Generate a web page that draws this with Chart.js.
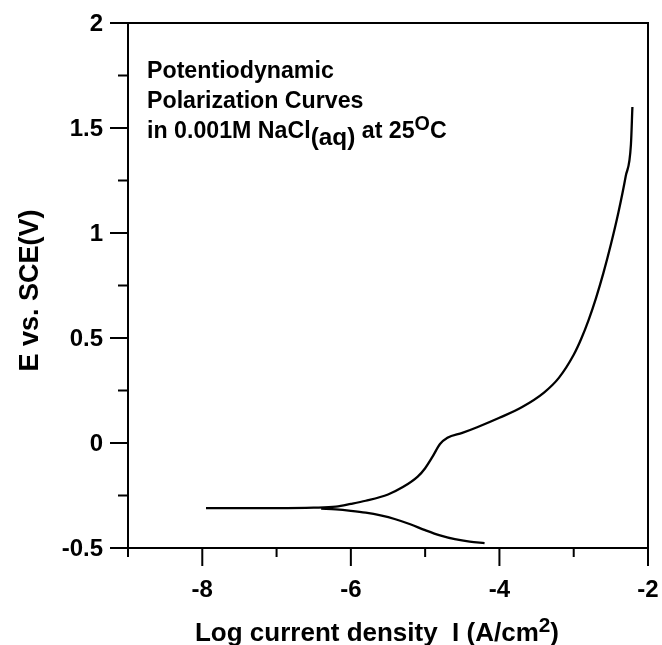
<!DOCTYPE html>
<html>
<head>
<meta charset="utf-8">
<script src="https://cdn.jsdelivr.net/npm/chart.js@4"></script>
<style>
  html, body { margin: 0; padding: 0; background: #fff; }
  #wrap { width: 662px; height: 645px; }
</style>
</head>
<body>
<div id="wrap"><canvas id="chart"></canvas></div>
<script>
// anodic branch: log current density vs potential
const anodicLogI = [-7.95, -7.5, -7.0, -6.5, -6.2, -6.0, -5.8, -5.5, -5.3, -5.1, -5.0, -4.9, -4.8, -4.7,
  -4.5, -4.3, -4.0, -3.7, -3.4, -3.2, -3.0, -2.9, -2.8, -2.7, -2.6, -2.5, -2.4, -2.3, -2.23, -2.21];
const anodicE = [-0.31, -0.31, -0.31, -0.308, -0.303, -0.29, -0.275, -0.245, -0.21, -0.16, -0.12, -0.065, -0.005, 0.025,
  0.048, 0.075, 0.12, 0.17, 0.24, 0.31, 0.42, 0.495, 0.585, 0.69, 0.81, 0.945, 1.095, 1.27, 1.42, 1.6];

// cathodic branch
const cathodicLogI = [-6.4, -6.2, -6.0, -5.8, -5.6, -5.4, -5.2, -5.0, -4.8, -4.6, -4.4, -4.2];
const cathodicE = [-0.312, -0.316, -0.323, -0.332, -0.345, -0.363, -0.387, -0.415, -0.44, -0.458, -0.47, -0.477];

const xTickLabels = ['-8', '-6', '-4', '-2'];
const yTickLabels = ['-0.5', '0', '0.5', '1', '1.5', '2'];

const FONT = '"Liberation Sans", Arial, sans-serif';

function toPoints(xs, ys) {
  return xs.map((x, i) => ({ x: x, y: ys[i] }));
}

function richWidth(ctx, parts, size) {
  let w = 0;
  parts.forEach(p => {
    ctx.font = `bold ${size * (p.scale || 1)}px ${FONT}`;
    w += ctx.measureText(p.text).width;
  });
  return w;
}

function drawRich(ctx, parts, x, y, size) {
  let cx = x;
  parts.forEach(p => {
    ctx.font = `bold ${size * (p.scale || 1)}px ${FONT}`;
    ctx.fillText(p.text, cx, y + (p.dy || 0) * size);
    cx += ctx.measureText(p.text).width;
  });
}

const frame = {
  id: 'frame',
  afterDraw(chart) {
    const { ctx, chartArea: a, scales: { x, y } } = chart;
    ctx.save();
    ctx.strokeStyle = '#000';
    ctx.fillStyle = '#000';
    ctx.lineWidth = 2;
    ctx.strokeRect(a.left, a.top, a.right - a.left, a.bottom - a.top);

    // tick marks, outside the box
    ctx.beginPath();
    for (let v = x.min; v <= x.max; v++) {
      const px = x.getPixelForValue(v);
      const len = v % 2 === 0 ? 18 : 9;
      ctx.moveTo(px, a.bottom);
      ctx.lineTo(px, a.bottom + len);
    }
    for (let v = y.min; v <= y.max + 1e-9; v += 0.25) {
      const py = y.getPixelForValue(v);
      const major = Math.abs(v * 2 - Math.round(v * 2)) < 1e-6;
      ctx.moveTo(a.left, py);
      ctx.lineTo(a.left - (major ? 18 : 10), py);
    }
    ctx.stroke();

    // tick labels
    ctx.font = `bold 24px ${FONT}`;
    ctx.textBaseline = 'middle';
    ctx.textAlign = 'center';
    xTickLabels.forEach(t => ctx.fillText(t, x.getPixelForValue(Number(t)), a.bottom + 42));
    ctx.textAlign = 'right';
    yTickLabels.forEach(t => ctx.fillText(t, a.left - 25, y.getPixelForValue(Number(t)) + 1));

    // annotation
    ctx.textBaseline = 'alphabetic';
    ctx.textAlign = 'left';
    const tx = a.left + 19;
    drawRich(ctx, [{ text: 'Potentiodynamic' }], tx, 78, 23.2);
    drawRich(ctx, [{ text: 'Polarization Curves' }], tx, 108, 23.2);
    drawRich(ctx, [
      { text: 'in 0.001M NaCl' },
      { text: '(aq)', scale: 1.05, dy: 0.3 },
      { text: ' at 25' },
      { text: 'O', scale: 0.85, dy: -0.35 },
      { text: 'C' }
    ], tx, 138, 23.2);

    // x axis title
    const xt = [
      { text: 'Log current density  I (A/cm' },
      { text: '2', scale: 0.8, dy: -0.35 },
      { text: ')' }
    ];
    const w = richWidth(ctx, xt, 26);
    drawRich(ctx, xt, 377 - w / 2, 641, 26);

    // y axis title
    ctx.translate(38, (a.top + a.bottom) / 2 + 5);
    ctx.rotate(-Math.PI / 2);
    ctx.textAlign = 'center';
    ctx.font = `bold 27px ${FONT}`;
    ctx.fillText('E vs. SCE(V)', 0, 0);
    ctx.restore();
  }
};

new Chart(document.getElementById('chart'), {
  type: 'scatter',
  data: {
    datasets: [
      {
        data: toPoints(anodicLogI, anodicE),
        showLine: true,
        borderColor: '#000',
        borderWidth: 2.3,
        pointRadius: 0,
        cubicInterpolationMode: 'monotone'
      },
      {
        data: toPoints(cathodicLogI, cathodicE),
        showLine: true,
        borderColor: '#000',
        borderWidth: 2.3,
        pointRadius: 0,
        cubicInterpolationMode: 'monotone'
      }
    ]
  },
  options: {
    responsive: true,
    maintainAspectRatio: false,
    animation: false,
    layout: { padding: { left: 0, right: 14, top: 23, bottom: 0 } },
    plugins: { legend: { display: false }, tooltip: { enabled: false } },
    scales: {
      x: {
        type: 'linear',
        min: -9,
        max: -2,
        grid: { display: false, drawTicks: false },
        border: { display: false },
        ticks: { display: false },
        afterFit: s => { s.height = 97; }
      },
      y: {
        min: -0.5,
        max: 2,
        grid: { display: false, drawTicks: false },
        border: { display: false },
        ticks: { display: false },
        afterFit: s => { s.width = 128; }
      }
    }
  },
  plugins: [frame]
});
</script>
</body>
</html>
